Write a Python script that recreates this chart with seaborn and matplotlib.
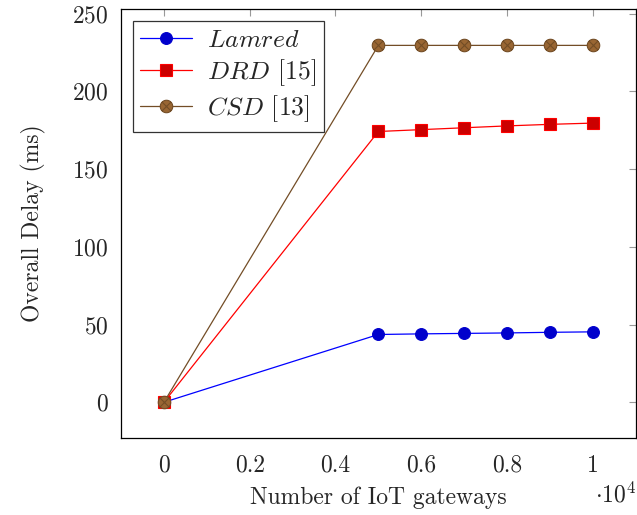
import matplotlib
matplotlib.use("Agg")
import matplotlib.pyplot as plt
import numpy as np
import pandas as pd
import seaborn as sns
from matplotlib.path import Path

gateways = [0, 5000, 6000, 7000, 8000, 9000, 10000]
lamred = [0, 43.6, 44.0, 44.3, 44.6, 45.0, 45.3]
drd = [0, 174.2, 175.4, 176.6, 177.8, 178.8, 179.6]
csd = [0, 229.6, 229.6, 229.6, 229.6, 229.6, 229.6]
series_names = [r"$Lamred$", r"$DRD$ [15]", r"$CSD$ [13]"]
x_ticks = [0, 2000, 4000, 6000, 8000, 10000]
x_tick_labels = ["0", "0.2", "0.4", "0.6", "0.8", "1"]
y_ticks = [0, 50, 100, 150, 200, 250]

sns.set_theme(style="white")
plt.rcParams["font.family"] = ["cmr10", "DejaVu Serif"]
plt.rcParams["mathtext.fontset"] = "cm"
plt.rcParams["axes.formatter.use_mathtext"] = True

df = pd.DataFrame({
    "x": gateways * 3,
    "y": lamred + drd + csd,
    "series": [series_names[0]] * 7 + [series_names[1]] * 7 + [series_names[2]] * 7,
})

# circle with a cross inside, like pgfplots otimes*
t = np.linspace(0, 2 * np.pi, 41)
circ = list(zip(np.cos(t), np.sin(t)))
d = np.sqrt(0.5)
verts = circ + [(-d, -d), (d, d), (-d, d), (d, -d)]
codes = [Path.MOVETO] + [Path.LINETO] * 39 + [Path.CLOSEPOLY] + [Path.MOVETO, Path.LINETO, Path.MOVETO, Path.LINETO]
otimes = Path(verts, codes)

styles = {
    series_names[0]: dict(color=(0, 0, 1), marker="o", mfc=(0, 0, 0.8), mec=(0, 0, 0.8), ms=8.5),
    series_names[1]: dict(color=(1, 0, 0), marker="s", mfc=(0.8, 0, 0), mec=(1, 0, 0), ms=8),
    series_names[2]: dict(color=(0.45, 0.3, 0.15), marker=otimes, mfc=(0.6, 0.4, 0.2), mec=(0.45, 0.3, 0.15), ms=9),
}

fig = plt.figure(figsize=(6.37, 5.15), dpi=100)
ax = fig.add_axes([0.19, 0.1495, 0.808, 0.833])

for name in series_names:
    st = styles[name]
    sns.lineplot(data=df[df["series"] == name], x="x", y="y", ax=ax, label=name,
                 color=st["color"], marker=st["marker"], markerfacecolor=st["mfc"],
                 markeredgecolor=st["mec"], markersize=st["ms"], markeredgewidth=0.8,
                 linewidth=0.9, estimator=None)

ax.set_xlim(-1000, 11000)
ax.set_ylim(-23, 253)
ax.set_xticks(x_ticks)
ax.set_xticklabels(x_tick_labels)
ax.set_yticks(y_ticks)
ax.tick_params(direction="in", length=5, width=0.8, color="#999999", labelsize=17,
               top=True, right=True)
ax.tick_params(axis="x", pad=12)
ax.tick_params(axis="y", pad=9)
for sp in ax.spines.values():
    sp.set_color("black")
    sp.set_linewidth(0.9)

ax.set_xlabel("Number of IoT gateways", fontsize=17, labelpad=7)
ax.set_ylabel("Overall Delay (ms)", fontsize=17, labelpad=19)
ax.text(1.0, -0.133, r"$\cdot10^4$", transform=ax.transAxes, ha="right", va="center", fontsize=17)

leg = ax.legend(loc="upper left", fontsize=18.5, frameon=True, fancybox=False,
                edgecolor="black", borderaxespad=0.45, handlelength=2.0, labelspacing=0.2,
                borderpad=0.3, handletextpad=0.6)
leg.get_frame().set_linewidth(0.9)

fig.savefig("out.png", dpi=100)
